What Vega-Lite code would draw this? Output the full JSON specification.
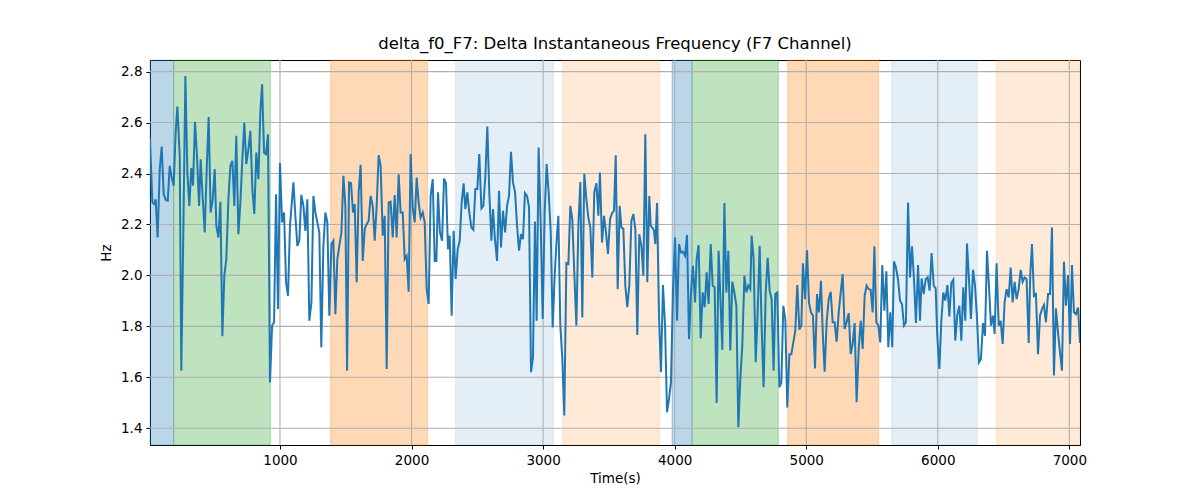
{
  "$schema": "https://vega.github.io/schema/vega-lite/v6.json",
  "width": 930,
  "height": 385,
  "autosize": {"type": "none"},
  "padding": {"left": 150, "top": 60, "right": 120, "bottom": 55},
  "background": "white",
  "title": {
    "text": "delta_f0_F7: Delta Instantaneous Frequency (F7 Channel)",
    "font": "DejaVu Sans",
    "fontSize": 16.5,
    "fontWeight": "normal",
    "color": "black",
    "offset": 7
  },
  "config": {
    "view": {"stroke": "black", "strokeWidth": 1},
    "axis": {
      "grid": false,
      "labelFont": "DejaVu Sans",
      "labelFontSize": 13.5,
      "labelColor": "black",
      "titleFont": "DejaVu Sans",
      "titleFontSize": 13.5,
      "titleFontWeight": "normal",
      "titleColor": "black",
      "domainColor": "black",
      "tickColor": "black",
      "tickSize": 4,
      "labelPadding": 4
    }
  },
  "datasets": {
    "bands": [
      {"start": 12, "end": 192, "phase": "P1"},
      {"start": 192, "end": 927, "phase": "P2"},
      {"start": 1385, "end": 2122, "phase": "P3"},
      {"start": 2335, "end": 3078, "phase": "P4"},
      {"start": 3149, "end": 3884, "phase": "P5"},
      {"start": 3980, "end": 4132, "phase": "P1"},
      {"start": 4132, "end": 4788, "phase": "P2"},
      {"start": 4859, "end": 5550, "phase": "P3"},
      {"start": 5651, "end": 6300, "phase": "P4"},
      {"start": 6447, "end": 7081, "phase": "P5"}
    ],
    "xgrid": [{"x": 1000}, {"x": 2000}, {"x": 3000}, {"x": 4000}, {"x": 5000}, {"x": 6000}, {"x": 7000}],
    "ygrid": [{"y": 1.4}, {"y": 1.6}, {"y": 1.8}, {"y": 2.0}, {"y": 2.2}, {"y": 2.4}, {"y": 2.6}, {"y": 2.8}],
    "series": [
      {"t":12,"hz":2.535},{"t":30,"hz":2.286},{"t":45,"hz":2.28},{"t":55,"hz":2.299},{"t":70,"hz":2.149},{"t":86,"hz":2.417},{"t":101,"hz":2.506},{"t":116,"hz":2.319},{"t":131,"hz":2.297},{"t":147,"hz":2.293},{"t":162,"hz":2.43},{"t":177,"hz":2.384},{"t":192,"hz":2.352},{"t":207,"hz":2.561},{"t":220,"hz":2.663},{"t":238,"hz":2.469},{"t":250,"hz":1.626},{"t":266,"hz":2.195},{"t":281,"hz":2.783},{"t":296,"hz":2.404},{"t":311,"hz":2.273},{"t":326,"hz":2.421},{"t":339,"hz":2.352},{"t":354,"hz":2.603},{"t":369,"hz":2.469},{"t":385,"hz":2.273},{"t":397,"hz":2.456},{"t":413,"hz":2.299},{"t":428,"hz":2.169},{"t":443,"hz":2.417},{"t":458,"hz":2.622},{"t":473,"hz":2.247},{"t":489,"hz":2.299},{"t":504,"hz":2.417},{"t":516,"hz":2.195},{"t":532,"hz":2.149},{"t":547,"hz":2.289},{"t":562,"hz":1.761},{"t":577,"hz":1.999},{"t":592,"hz":2.064},{"t":608,"hz":2.299},{"t":623,"hz":2.43},{"t":638,"hz":2.45},{"t":653,"hz":2.273},{"t":668,"hz":2.548},{"t":684,"hz":2.162},{"t":699,"hz":2.286},{"t":714,"hz":2.456},{"t":729,"hz":2.6},{"t":744,"hz":2.437},{"t":760,"hz":2.495},{"t":775,"hz":2.567},{"t":790,"hz":2.339},{"t":805,"hz":2.241},{"t":820,"hz":2.482},{"t":836,"hz":2.378},{"t":851,"hz":2.646},{"t":864,"hz":2.75},{"t":879,"hz":2.482},{"t":894,"hz":2.476},{"t":909,"hz":2.554},{"t":924,"hz":1.58},{"t":940,"hz":1.803},{"t":955,"hz":1.816},{"t":970,"hz":2.319},{"t":985,"hz":1.868},{"t":1000,"hz":2.441},{"t":1016,"hz":2.208},{"t":1031,"hz":2.247},{"t":1046,"hz":1.973},{"t":1061,"hz":1.92},{"t":1076,"hz":2.195},{"t":1102,"hz":2.365},{"t":1117,"hz":2.234},{"t":1132,"hz":2.116},{"t":1147,"hz":2.136},{"t":1162,"hz":2.316},{"t":1178,"hz":2.273},{"t":1193,"hz":2.175},{"t":1208,"hz":2.299},
      {"t":1223,"hz":1.822},{"t":1239,"hz":1.894},{"t":1254,"hz":2.312},{"t":1269,"hz":2.247},{"t":1284,"hz":2.208},{"t":1299,"hz":2.169},{"t":1314,"hz":1.718},{"t":1330,"hz":2.116},{"t":1345,"hz":2.247},{"t":1360,"hz":2.208},{"t":1375,"hz":1.842},{"t":1391,"hz":2.123},{"t":1406,"hz":2.136},{"t":1421,"hz":1.848},{"t":1436,"hz":2.064},{"t":1451,"hz":2.116},{"t":1467,"hz":2.169},{"t":1482,"hz":2.391},{"t":1497,"hz":2.273},{"t":1510,"hz":1.626},{"t":1525,"hz":2.365},{"t":1540,"hz":2.362},{"t":1555,"hz":2.247},{"t":1568,"hz":2.28},{"t":1583,"hz":1.973},{"t":1598,"hz":2.326},{"t":1613,"hz":2.434},{"t":1629,"hz":2.057},{"t":1644,"hz":2.182},{"t":1659,"hz":2.201},{"t":1674,"hz":2.214},{"t":1689,"hz":2.312},{"t":1705,"hz":2.273},{"t":1720,"hz":2.136},{"t":1735,"hz":2.273},{"t":1750,"hz":2.472},{"t":1765,"hz":2.43},{"t":1781,"hz":2.156},{"t":1796,"hz":2.234},{"t":1811,"hz":1.633},{"t":1826,"hz":2.286},{"t":1841,"hz":2.289},{"t":1857,"hz":2.149},{"t":1872,"hz":2.315},{"t":1887,"hz":2.149},{"t":1902,"hz":2.397},{"t":1917,"hz":2.247},{"t":1933,"hz":2.247},{"t":1948,"hz":2.064},{"t":1963,"hz":2.077},{"t":1978,"hz":1.936},{"t":1993,"hz":2.476},{"t":2009,"hz":2.267},{"t":2024,"hz":2.208},{"t":2039,"hz":2.384},{"t":2054,"hz":2.286},{"t":2069,"hz":2.227},{"t":2085,"hz":2.247},{"t":2100,"hz":2.208},{"t":2115,"hz":1.946},{"t":2130,"hz":1.888},{"t":2145,"hz":2.312},{"t":2161,"hz":2.378},{"t":2176,"hz":2.057},{"t":2189,"hz":2.057},{"t":2201,"hz":2.326},{"t":2216,"hz":2.169},{"t":2232,"hz":2.136},{"t":2247,"hz":2.38},{"t":2262,"hz":2.362},{"t":2277,"hz":2.103},{"t":2290,"hz":2.156},{"t":2305,"hz":1.842},{"t":2320,"hz":2.175},{"t":2335,"hz":1.986},{"t":2351,"hz":2.103},{"t":2366,"hz":2.136},{"t":2381,"hz":2.286},{"t":2396,"hz":2.361},
      {"t":2409,"hz":2.26},{"t":2424,"hz":2.326},{"t":2439,"hz":2.247},{"t":2455,"hz":2.188},{"t":2470,"hz":2.179},{"t":2485,"hz":2.339},{"t":2500,"hz":2.339},{"t":2515,"hz":2.476},{"t":2531,"hz":2.263},{"t":2546,"hz":2.273},{"t":2561,"hz":2.391},{"t":2576,"hz":2.584},{"t":2591,"hz":2.326},{"t":2607,"hz":2.136},{"t":2619,"hz":2.26},{"t":2634,"hz":2.142},{"t":2650,"hz":2.057},{"t":2665,"hz":2.332},{"t":2680,"hz":2.11},{"t":2695,"hz":2.254},{"t":2711,"hz":2.169},{"t":2726,"hz":2.273},{"t":2741,"hz":2.312},{"t":2756,"hz":2.485},{"t":2771,"hz":2.365},{"t":2787,"hz":2.326},{"t":2802,"hz":2.195},{"t":2817,"hz":2.097},{"t":2832,"hz":2.162},{"t":2847,"hz":2.142},{"t":2862,"hz":2.323},{"t":2878,"hz":2.312},{"t":2893,"hz":2.267},{"t":2908,"hz":1.62},{"t":2923,"hz":1.678},{"t":2938,"hz":2.212},{"t":2951,"hz":1.822},{"t":2966,"hz":2.502},{"t":2982,"hz":2.195},{"t":2997,"hz":1.829},{"t":3012,"hz":2.247},{"t":3027,"hz":2.437},{"t":3042,"hz":2.326},{"t":3058,"hz":2.169},{"t":3073,"hz":1.796},{"t":3088,"hz":1.999},{"t":3103,"hz":2.142},{"t":3116,"hz":2.234},{"t":3131,"hz":1.803},{"t":3146,"hz":1.672},{"t":3161,"hz":1.45},{"t":3177,"hz":2.048},{"t":3192,"hz":2.044},{"t":3207,"hz":2.273},{"t":3222,"hz":2.221},{"t":3237,"hz":2.012},{"t":3253,"hz":1.803},{"t":3268,"hz":2.195},{"t":3283,"hz":2.367},{"t":3298,"hz":1.835},{"t":3313,"hz":2.4},{"t":3329,"hz":2.299},{"t":3344,"hz":2.227},{"t":3359,"hz":2.188},{"t":3374,"hz":1.992},{"t":3389,"hz":2.326},{"t":3405,"hz":2.362},{"t":3420,"hz":2.234},{"t":3432,"hz":2.404},{"t":3448,"hz":2.129},{"t":3463,"hz":2.234},{"t":3478,"hz":2.169},{"t":3493,"hz":2.084},{"t":3509,"hz":2.221},{"t":3524,"hz":2.244},{"t":3539,"hz":2.254},{"t":3552,"hz":2.472},{"t":3567,"hz":1.946},{"t":3582,"hz":2.273},
      {"t":3595,"hz":2.188},{"t":3610,"hz":2.184},{"t":3625,"hz":1.96},{"t":3640,"hz":1.875},{"t":3655,"hz":1.96},{"t":3671,"hz":2.214},{"t":3686,"hz":2.241},{"t":3701,"hz":2.182},{"t":3716,"hz":1.766},{"t":3731,"hz":2.162},{"t":3747,"hz":2.116},{"t":3762,"hz":1.999},{"t":3777,"hz":2.554},{"t":3792,"hz":1.973},{"t":3807,"hz":2.312},{"t":3818,"hz":2.195},{"t":3830,"hz":2.188},{"t":3843,"hz":2.175},{"t":3853,"hz":2.123},{"t":3866,"hz":2.284},{"t":3881,"hz":1.842},{"t":3896,"hz":1.62},{"t":3911,"hz":1.962},{"t":3927,"hz":1.803},{"t":3942,"hz":1.463},{"t":3957,"hz":1.515},{"t":3972,"hz":1.58},{"t":3987,"hz":1.933},{"t":4003,"hz":2.149},{"t":4018,"hz":1.822},{"t":4033,"hz":2.123},{"t":4048,"hz":2.09},{"t":4063,"hz":2.093},{"t":4079,"hz":2.077},{"t":4094,"hz":2.159},{"t":4109,"hz":1.75},{"t":4124,"hz":1.933},{"t":4139,"hz":2.038},{"t":4155,"hz":1.894},{"t":4167,"hz":2.064},{"t":4182,"hz":2.119},{"t":4198,"hz":1.753},{"t":4213,"hz":1.933},{"t":4228,"hz":1.875},{"t":4243,"hz":2.012},{"t":4258,"hz":1.888},{"t":4274,"hz":2.123},{"t":4289,"hz":1.96},{"t":4304,"hz":1.953},{"t":4319,"hz":1.499},{"t":4334,"hz":2.097},{"t":4350,"hz":1.881},{"t":4362,"hz":1.708},{"t":4378,"hz":2.284},{"t":4393,"hz":1.933},{"t":4408,"hz":2.097},{"t":4423,"hz":1.705},{"t":4438,"hz":1.975},{"t":4454,"hz":1.933},{"t":4469,"hz":1.881},{"t":4484,"hz":1.404},{"t":4499,"hz":1.593},{"t":4514,"hz":1.724},{"t":4530,"hz":1.999},{"t":4545,"hz":1.933},{"t":4560,"hz":1.96},{"t":4575,"hz":1.946},{"t":4585,"hz":2.156},{"t":4600,"hz":2.064},{"t":4616,"hz":1.659},{"t":4631,"hz":1.855},{"t":4646,"hz":2.116},{"t":4661,"hz":1.803},{"t":4676,"hz":1.561},{"t":4692,"hz":1.933},{"t":4707,"hz":2.069},{"t":4722,"hz":1.94},{"t":4737,"hz":1.907},{"t":4752,"hz":1.626},
      {"t":4765,"hz":1.927},{"t":4780,"hz":1.933},{"t":4796,"hz":1.561},{"t":4811,"hz":1.58},{"t":4826,"hz":1.881},{"t":4841,"hz":1.829},{"t":4856,"hz":1.482},{"t":4872,"hz":1.691},{"t":4887,"hz":1.691},{"t":4902,"hz":1.737},{"t":4917,"hz":1.783},{"t":4932,"hz":1.962},{"t":4948,"hz":1.787},{"t":4963,"hz":1.803},{"t":4975,"hz":2.048},{"t":4991,"hz":1.907},{"t":5006,"hz":2.099},{"t":5021,"hz":1.894},{"t":5036,"hz":1.855},{"t":5051,"hz":1.842},{"t":5067,"hz":1.635},{"t":5082,"hz":1.927},{"t":5097,"hz":1.855},{"t":5112,"hz":1.979},{"t":5127,"hz":1.757},{"t":5140,"hz":1.622},{"t":5155,"hz":1.816},{"t":5171,"hz":1.907},{"t":5186,"hz":1.936},{"t":5201,"hz":1.816},{"t":5216,"hz":1.816},{"t":5231,"hz":1.74},{"t":5247,"hz":1.855},{"t":5262,"hz":1.933},{"t":5277,"hz":2.005},{"t":5292,"hz":1.79},{"t":5307,"hz":1.816},{"t":5323,"hz":1.852},{"t":5338,"hz":1.691},{"t":5353,"hz":1.731},{"t":5368,"hz":1.813},{"t":5383,"hz":1.502},{"t":5399,"hz":1.711},{"t":5414,"hz":1.822},{"t":5429,"hz":1.711},{"t":5444,"hz":1.92},{"t":5459,"hz":1.96},{"t":5475,"hz":1.946},{"t":5490,"hz":1.944},{"t":5505,"hz":1.855},{"t":5518,"hz":2.114},{"t":5533,"hz":1.816},{"t":5548,"hz":1.803},{"t":5563,"hz":1.737},{"t":5578,"hz":2.041},{"t":5594,"hz":1.861},{"t":5609,"hz":2.016},{"t":5624,"hz":1.718},{"t":5639,"hz":1.855},{"t":5654,"hz":1.718},{"t":5667,"hz":2.055},{"t":5682,"hz":2.031},{"t":5698,"hz":1.983},{"t":5713,"hz":1.901},{"t":5728,"hz":1.888},{"t":5743,"hz":1.803},{"t":5758,"hz":1.816},{"t":5774,"hz":2.286},{"t":5789,"hz":1.992},{"t":5804,"hz":2.114},{"t":5819,"hz":1.986},{"t":5834,"hz":1.813},{"t":5850,"hz":2.041},{"t":5865,"hz":1.822},{"t":5877,"hz":1.988},{"t":5893,"hz":1.927},{"t":5908,"hz":1.986},{"t":5923,"hz":1.992},{"t":5938,"hz":1.94},
      {"t":5953,"hz":2.088},{"t":5969,"hz":1.96},{"t":5984,"hz":1.949},{"t":5996,"hz":1.763},{"t":6012,"hz":1.633},{"t":6027,"hz":1.822},{"t":6042,"hz":1.933},{"t":6057,"hz":1.901},{"t":6073,"hz":1.962},{"t":6088,"hz":1.839},{"t":6103,"hz":1.97},{"t":6118,"hz":1.983},{"t":6133,"hz":1.744},{"t":6148,"hz":1.844},{"t":6164,"hz":1.881},{"t":6179,"hz":1.744},{"t":6194,"hz":1.953},{"t":6209,"hz":1.822},{"t":6222,"hz":2.125},{"t":6237,"hz":1.986},{"t":6252,"hz":1.829},{"t":6268,"hz":2.022},{"t":6283,"hz":1.96},{"t":6298,"hz":1.835},{"t":6313,"hz":1.659},{"t":6328,"hz":1.672},{"t":6344,"hz":1.813},{"t":6359,"hz":1.763},{"t":6374,"hz":2.097},{"t":6389,"hz":1.96},{"t":6404,"hz":1.803},{"t":6420,"hz":1.842},{"t":6432,"hz":1.77},{"t":6447,"hz":2.048},{"t":6463,"hz":1.803},{"t":6478,"hz":1.822},{"t":6493,"hz":1.731},{"t":6508,"hz":1.894},{"t":6523,"hz":1.946},{"t":6539,"hz":1.914},{"t":6554,"hz":2.031},{"t":6569,"hz":1.894},{"t":6584,"hz":1.975},{"t":6599,"hz":1.907},{"t":6615,"hz":1.946},{"t":6630,"hz":2.022},{"t":6645,"hz":1.975},{"t":6660,"hz":1.992},{"t":6675,"hz":1.986},{"t":6691,"hz":1.735},{"t":6703,"hz":2.005},{"t":6716,"hz":2.123},{"t":6731,"hz":1.92},{"t":6746,"hz":1.927},{"t":6762,"hz":1.691},{"t":6777,"hz":1.842},{"t":6792,"hz":1.868},{"t":6807,"hz":1.884},{"t":6822,"hz":1.816},{"t":6838,"hz":1.927},{"t":6853,"hz":1.927},{"t":6868,"hz":2.188},{"t":6883,"hz":1.607},{"t":6898,"hz":1.871},{"t":6914,"hz":1.776},{"t":6929,"hz":1.698},{"t":6944,"hz":1.626},{"t":6959,"hz":2.054},{"t":6974,"hz":1.881},{"t":6990,"hz":2.001},{"t":7005,"hz":1.731},{"t":7020,"hz":2.041},{"t":7035,"hz":1.855},{"t":7050,"hz":1.848},{"t":7066,"hz":1.874},{"t":7081,"hz":1.735}
    ]
  },
  "layer": [
    {
      "data": {"name": "bands"},
      "mark": {"type": "rect", "strokeWidth": 1},
      "encoding": {
        "x": {
          "field": "start",
          "type": "quantitative",
          "scale": {"domain": [12, 7081], "nice": false, "zero": false},
          "axis": {"title": "Time(s)", "values": [1000, 2000, 3000, 4000, 5000, 6000, 7000], "format": "d", "titlePadding": 5}
        },
        "x2": {"field": "end"},
        "y": {
          "datum": 1.3343,
          "type": "quantitative",
          "scale": {"domain": [1.3343, 2.8456], "nice": false, "zero": false},
          "axis": {"title": "Hz", "values": [1.4, 1.6, 1.8, 2.0, 2.2, 2.4, 2.6, 2.8], "format": ".1f", "titlePadding": 7}
        },
        "y2": {"datum": 2.8456},
        "fill": {
          "field": "phase",
          "type": "nominal",
          "legend": null,
          "scale": {
            "domain": ["P1", "P2", "P3", "P4", "P5"],
            "range": ["rgba(31,119,180,0.3)", "rgba(44,160,44,0.3)", "rgba(255,127,14,0.3)", "rgba(31,119,180,0.12)", "rgba(255,127,14,0.16)"]
          }
        },
        "stroke": {
          "field": "phase",
          "type": "nominal",
          "legend": null,
          "scale": {
            "domain": ["P1", "P2", "P3", "P4", "P5"],
            "range": ["rgba(31,119,180,0.3)", "rgba(44,160,44,0.3)", "rgba(255,127,14,0.3)", "rgba(31,119,180,0.12)", "rgba(255,127,14,0.16)"]
          }
        }
      }
    },
    {
      "data": {"name": "xgrid"},
      "mark": {"type": "rule", "color": "#b0b0b0", "strokeWidth": 1.1},
      "encoding": {"x": {"field": "x", "type": "quantitative"}}
    },
    {
      "data": {"name": "ygrid"},
      "mark": {"type": "rule", "color": "#b0b0b0", "strokeWidth": 1.1},
      "encoding": {"y": {"field": "y", "type": "quantitative"}}
    },
    {
      "data": {"name": "series"},
      "mark": {"type": "line", "color": "#1f77b4", "strokeWidth": 2, "clip": true},
      "encoding": {
        "x": {"field": "t", "type": "quantitative"},
        "y": {"field": "hz", "type": "quantitative"}
      }
    }
  ]
}
